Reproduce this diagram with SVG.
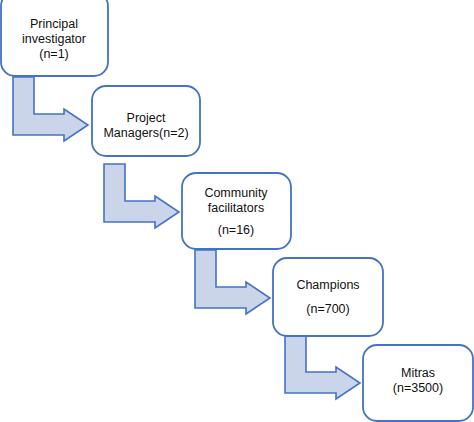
<svg xmlns="http://www.w3.org/2000/svg" width="474" height="422" viewBox="0 0 474 422">
<style>
.box{fill:#ffffff;stroke:#4472C4;stroke-width:1.8}
.arr{fill:#CBD5EA;stroke:#4472C4;stroke-width:1.6;stroke-linejoin:miter}
text{font-family:"Liberation Sans",Arial,sans-serif;font-size:12.5px;fill:#111111;text-anchor:middle}
</style>
<defs>
<path id="bent" d="M13,77 L34,77 L34,114 L64,114 L64,109 L88,125 L64,141 L64,135 L13,135 Z"/>
</defs>
<rect width="474" height="422" fill="#ffffff"/>
<g id="connectors">
<use href="#bent" class="arr"/>
<use href="#bent" class="arr" transform="translate(91,87)"/>
<use href="#bent" class="arr" transform="translate(182,173)"/>
<use href="#bent" class="arr" transform="translate(272,258)"/>
</g>
<g id="n1">
<rect class="box" x="1" y="-8" width="107" height="84" rx="14"/>
<text x="54" y="28">Principal</text>
<text x="54" y="43">investigator</text>
<text x="54" y="58">(n=1)</text>
</g>
<g id="n2">
<rect class="box" x="92" y="86" width="108" height="70" rx="14"/>
<text x="146" y="122">Project</text>
<text x="146" y="137">Managers(n=2)</text>
</g>
<g id="n3">
<rect class="box" x="182" y="173" width="109" height="76" rx="14"/>
<text x="236" y="197">Community</text>
<text x="236" y="212">facilitators</text>
<text x="236" y="234">(n=16)</text>
</g>
<g id="n4">
<rect class="box" x="273" y="258" width="110" height="78" rx="14"/>
<text x="328" y="289">Champions</text>
<text x="328" y="313">(n=700)</text>
</g>
<g id="n5">
<rect class="box" x="363" y="345" width="110" height="76" rx="14"/>
<text x="418" y="377">Mitras</text>
<text x="418" y="392">(n=3500)</text>
</g>
</svg>
